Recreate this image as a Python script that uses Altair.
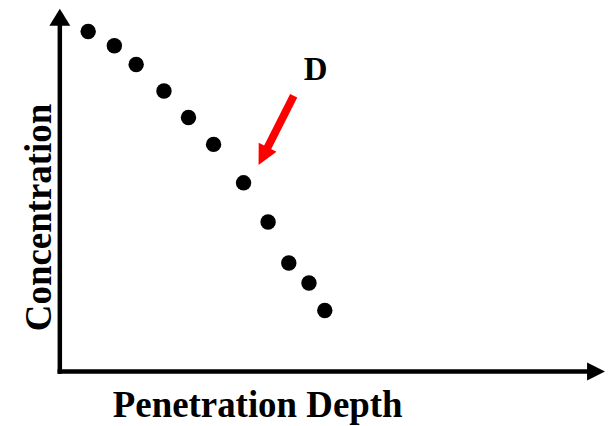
import altair as alt
import pandas as pd

# Measured profile (relative units, 0-100 on both axes)
depth = [5.2, 10.0, 14.0, 19.1, 23.6, 28.2, 33.7, 38.2, 42.0, 45.7, 48.6]
concentration = [93.7, 89.8, 84.6, 77.3, 70.0, 62.6, 52.0, 41.2, 29.9, 24.4, 16.8]

# Annotation "D": red arrow (tail -> tip) and label position
arrow_tail = [42.9, 76.0]
arrow_shaft_end = [37.85, 61.0]
arrow_tip = [36.45, 56.9]
label_pos = [46.9, 83.0]
label_text = ["D"]

# Axis arrows (domain ends)
axis_max = 100
axis_line_end = 97

FONT = "Liberation Serif"

xs = alt.Scale(domain=[0, 100], nice=False, zero=False)
ys = alt.Scale(domain=[0, 100], nice=False, zero=False)

pts = pd.DataFrame({"depth": depth, "conc": concentration})

points = alt.Chart(pts).mark_circle(size=240, color="black", opacity=1).encode(
    x=alt.X("depth:Q", scale=xs, axis=alt.Axis(
        title="Penetration Depth", domain=False, ticks=False, labels=False, grid=False,
        titleFont=FONT, titleFontSize=37, titleFontWeight="bold", titleColor="black",
        titleX=198, titleY=45, titleAlign="center", titleBaseline="alphabetic")),
    y=alt.Y("conc:Q", scale=ys, axis=alt.Axis(
        title="Concentration", domain=False, ticks=False, labels=False, grid=False,
        titleFont=FONT, titleFontSize=37, titleFontWeight="bold", titleColor="black",
        titleX=-9, titleY=209, titleAlign="center", titleBaseline="alphabetic", titleAngle=-90)),
)

axes_df = pd.DataFrame({
    "x": [0, 0], "y": [0, 0],
    "x2": [axis_line_end, 0], "y2": [0, axis_line_end],
})
axis_lines = alt.Chart(axes_df).mark_rule(color="black", strokeWidth=4.5, strokeCap="square").encode(
    x=alt.X("x:Q", scale=xs), y=alt.Y("y:Q", scale=ys), x2="x2:Q", y2="y2:Q")

xhead = alt.Chart(pd.DataFrame({"x": [axis_max], "y": [0]})).mark_point(
    shape="M0,0 L-1.8,-0.9 L-1.8,0.9 Z", size=400, filled=True, color="black", opacity=1
).encode(x=alt.X("x:Q", scale=xs), y=alt.Y("y:Q", scale=ys))

yhead = alt.Chart(pd.DataFrame({"x": [0], "y": [axis_max]})).mark_point(
    shape="M0,0 L-1.05,1.7 L1.05,1.7 Z", size=400, filled=True, color="black", opacity=1
).encode(x=alt.X("x:Q", scale=xs), y=alt.Y("y:Q", scale=ys))

shaft_df = pd.DataFrame({"x": [arrow_tail[0]], "y": [arrow_tail[1]],
                         "x2": [arrow_shaft_end[0]], "y2": [arrow_shaft_end[1]]})
shaft = alt.Chart(shaft_df).mark_rule(color="#ff0000", strokeWidth=8, strokeCap="butt").encode(
    x=alt.X("x:Q", scale=xs), y=alt.Y("y:Q", scale=ys), x2="x2:Q", y2="y2:Q")

head = alt.Chart(pd.DataFrame({"x": [arrow_tip[0]], "y": [arrow_tip[1]]})).mark_point(
    shape="M0,0 L-1,-2 L1,-2 Z", size=400, angle=27, filled=True, color="#ff0000", opacity=1
).encode(x=alt.X("x:Q", scale=xs), y=alt.Y("y:Q", scale=ys))

label = alt.Chart(pd.DataFrame({"x": [label_pos[0]], "y": [label_pos[1]], "t": label_text})).mark_text(
    font=FONT, fontSize=33, fontWeight="bold", color="black", baseline="middle", align="center"
).encode(x=alt.X("x:Q", scale=xs), y=alt.Y("y:Q", scale=ys), text="t:N")

chart = alt.layer(axis_lines, xhead, yhead, points, shaft, head, label).properties(
    width=547, height=364,
    autosize=alt.AutoSizeParams(type="none"),
    padding={"left": 52, "top": 0, "right": 3, "bottom": 56},
).configure_view(stroke=None)

chart.save("out.html", embed_options={"renderer": "svg", "actions": False})
